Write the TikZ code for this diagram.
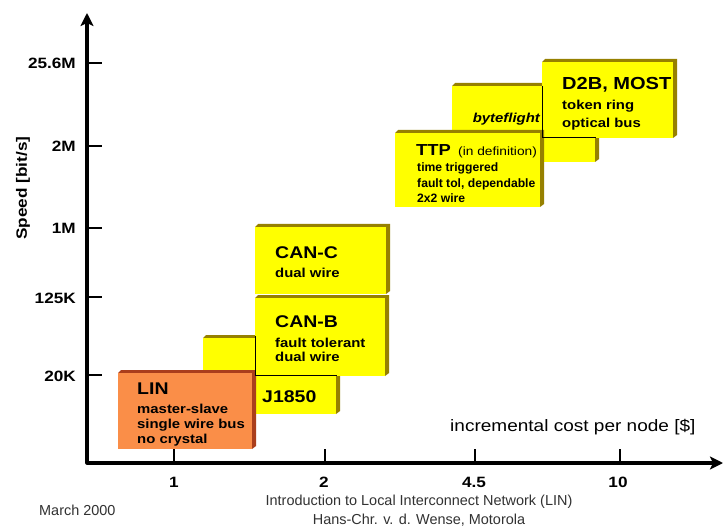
\documentclass[tikz,border=0pt]{standalone}
\usepackage{fontspec}
\setmainfont{Liberation Sans}
\newfontfamily\widefont{Liberation Sans}[FakeStretch=1.15]
\usetikzlibrary{arrows.meta}
\definecolor{boxY}{RGB}{255,255,0}
\definecolor{boxYdark}{RGB}{150,128,0}
\definecolor{linO}{RGB}{250,142,72}
\definecolor{linOdark}{RGB}{170,62,28}
\definecolor{foot}{RGB}{50,50,50}
% left top right bottom face dark
\newcommand\threedbox[6]{%
  \fill[#6] (#1,#2+3) -- (#1+3,#2) -- (#3,#2) -- (#3,#4-3) -- (#3-4,#4) -- (#3-4,#2+3) -- cycle;
  \fill[#5] (#1,#2+3) rectangle (#3-4,#4);
}
\tikzset{
  hd/.style={inner sep=0pt, anchor=base west, font=\widefont\bfseries\fontsize{17}{20}\selectfont},
  sub/.style={inner sep=0pt, anchor=base west, font=\widefont\bfseries\fontsize{13}{15}\selectfont},
  subsmall/.style={inner sep=0pt, anchor=base west, font=\bfseries\fontsize{12.2}{14}\selectfont},
  ylab/.style={inner sep=0pt, anchor=base east, font=\widefont\bfseries\fontsize{15}{18}\selectfont},
  xlab/.style={inner sep=0pt, anchor=base, font=\widefont\bfseries\fontsize{15}{18}\selectfont},
  foottxt/.style={inner sep=0pt, anchor=base, text=foot, font=\fontsize{14.5}{17}\selectfont},
  axisline/.style={line width=3.2bp, line join=round},
  tickline/.style={line width=2.6bp},
  edgeline/.style={line width=1bp, black},
}
\begin{document}
\begin{tikzpicture}[x=1bp, y=-1bp]
\useasboundingbox (0,0) rectangle (724,527);
\fill[white] (0,0) rectangle (724,527);

% boxes (back to front)
\threedbox{203}{335}{340}{414}{boxY}{boxYdark}
\threedbox{118}{370}{256}{449}{linO}{linOdark}
\threedbox{255}{295}{389}{376}{boxY}{boxYdark}
\threedbox{255}{224}{390}{294}{boxY}{boxYdark}
\threedbox{452}{83}{599}{162}{boxY}{boxYdark}
\threedbox{542}{59}{677}{138}{boxY}{boxYdark}
\threedbox{395}{130}{544}{207}{boxY}{boxYdark}
\draw[edgeline] (255,336) -- (255,375.5) -- (337,375.5);
\draw[edgeline] (542,86) -- (542,137.5) -- (596,137.5);

% box texts
\node[hd] (linT) at (137,394) {LIN};
\node[sub] (lin1) at (137,413) {master-slave};
\node[sub] (lin2) at (137,428) {single wire bus};
\node[sub] (lin3) at (137,443) {no crystal};
\node[hd] (j1850) at (262,402) {J1850};
\node[hd] (canbT) at (275,327) {CAN-B};
\node[sub] (canb1) at (275,347) {fault tolerant};
\node[sub] (canb2) at (275,361) {dual wire};
\node[hd] (cancT) at (275,259) {CAN-C};
\node[sub] (canc1) at (275,278) {dual wire};
\node[sub, anchor=base east, font=\widefont\bfseries\itshape\fontsize{13}{15}\selectfont] (bf) at (540,123) {byteflight};
\node[hd, font=\widefont\bfseries\fontsize{17.5}{20}\selectfont] (d2bT) at (562,90) {D2B, MOST};
\node[sub] (d2b1) at (562,110) {token ring};
\node[sub] (d2b2) at (562,128) {optical bus};
\node[hd, font=\widefont\bfseries\fontsize{16}{19}\selectfont] (ttpT) at (416,156) {TTP};
\node[inner sep=0pt, anchor=base west, font=\widefont\fontsize{12}{14}\selectfont] (ttpD) at (458,156) {(in definition)};
\node[subsmall] (ttp1) at (417,172) {time triggered};
\node[subsmall] (ttp2) at (417,187.5) {fault tol, dependable};
\node[subsmall] (ttp3) at (417,203) {2x2 wire};

% axes
\coordinate (O) at (87,463);
\coordinate (ytip) at (87,13);
\coordinate (xtip) at (723,463);
\draw[axisline, {Stealth[length=13bp,width=13bp,inset=3bp]}-{Stealth[length=13bp,width=13bp,inset=3bp]}] (ytip) -- (O) -- (xtip);

% y ticks
\foreach \yy/\nm in {63/a,146/b,228/c,297/d,375/e} {
  \coordinate (yt\nm) at (87,\yy);
  \coordinate (ye\nm) at (102,\yy);
  \draw[tickline] (yt\nm) -- (ye\nm);
}
\node[ylab] (l256) at (76,69) {25.6M};
\node[ylab] (l2m) at (76,152) {2M};
\node[ylab] (l1m) at (76,234) {1M};
\node[ylab] (l125) at (76,303) {125K};
\node[ylab] (l20) at (76,381) {20K};
\node[inner sep=0pt, rotate=90, font=\widefont\bfseries\fontsize{15}{18}\selectfont] (speed) at (23,188) {Speed [bit/s]};

% x ticks
\foreach \xx/\nm in {174/a,325/b,475/c,620/d} {
  \coordinate (xt\nm) at (\xx,463);
  \coordinate (xe\nm) at (\xx,449);
  \draw[tickline] (xt\nm) -- (xe\nm);
}
\node[xlab] (x1) at (174,487) {1};
\node[xlab] (x2) at (324,487) {2};
\node[xlab] (x45) at (474,487) {4.5};
\node[xlab] (x10) at (618,487) {10};
\node[inner sep=0pt, anchor=base west, font=\widefont\fontsize{16.6}{19}\selectfont] (cost) at (450,431) {incremental cost per node [\$]};

% footer
\node[foottxt, anchor=base west] (date) at (39,515) {March 2000};
\node[foottxt] (title) at (419,505) {Introduction to Local Interconnect Network (LIN)};
\node[foottxt] (author) at (419,524) {Hans-Chr. v. d. Wense, Motorola};
\end{tikzpicture}
\end{document}
